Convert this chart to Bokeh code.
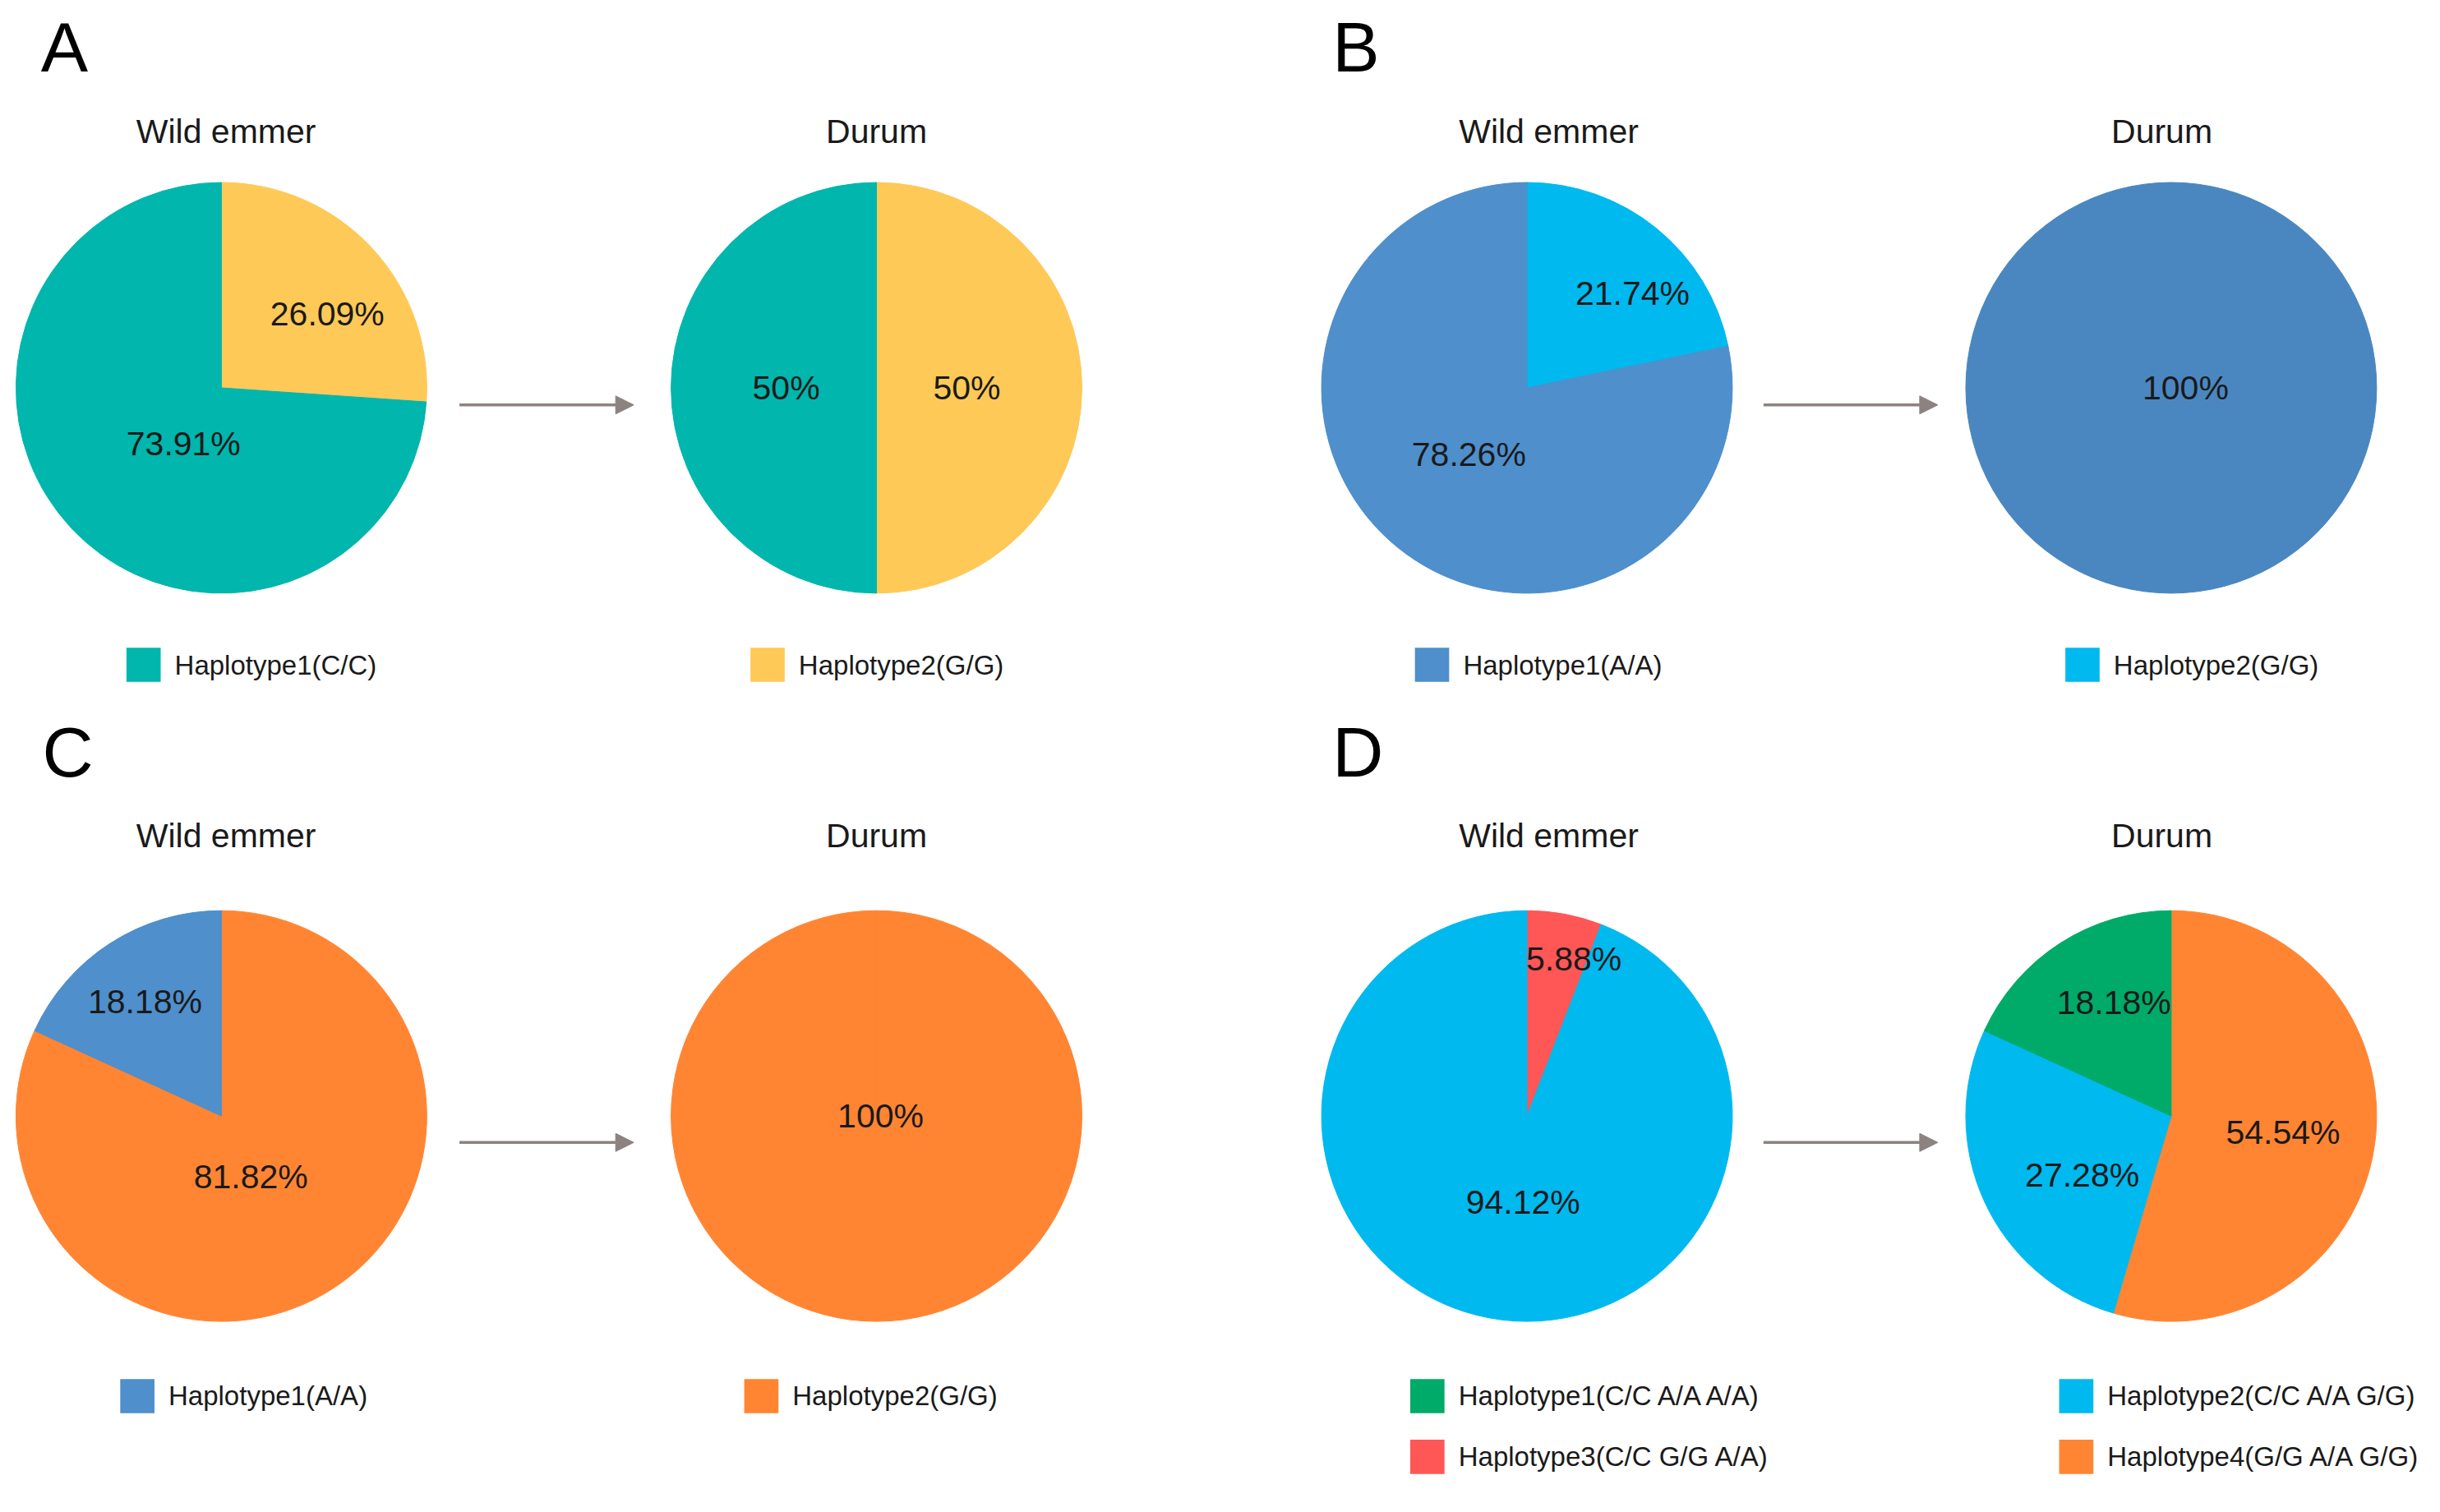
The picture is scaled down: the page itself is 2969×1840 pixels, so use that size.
import math
from bokeh.plotting import figure
from bokeh.models import Range1d, Arrow, NormalHead, ColumnDataSource
from bokeh.core.properties import value
from bokeh.embed import file_html
from bokeh.resources import INLINE

# ---------------- data ----------------
TEAL = "#00b6ad"
YELLOW = "#ffc957"
BLUE = "#4e8fcc"
BLUE_D = "#4a87c0"
CYAN = "#00b9ef"
ORANGE = "#ff8533"
GREEN = "#00aa68"
RED = "#ff5656"

# slices listed clockwise from 12 o'clock
A_wild_pct = [26.09, 73.91]
A_wild_col = [YELLOW, TEAL]
A_durum_pct = [50, 50]
A_durum_col = [YELLOW, TEAL]
A_legend = ["Haplotype1(C/C)", "Haplotype2(G/G)"]
A_legend_col = [TEAL, YELLOW]

B_wild_pct = [21.74, 78.26]
B_wild_col = [CYAN, BLUE]
B_durum_pct = [100]
B_durum_col = [BLUE_D]
B_legend = ["Haplotype1(A/A)", "Haplotype2(G/G)"]
B_legend_col = [BLUE, CYAN]

C_wild_pct = [81.82, 18.18]
C_wild_col = [ORANGE, BLUE]
C_durum_pct = [100]
C_durum_col = [ORANGE]
C_legend = ["Haplotype1(A/A)", "Haplotype2(G/G)"]
C_legend_col = [BLUE, ORANGE]

D_wild_pct = [5.88, 94.12]
D_wild_col = [RED, CYAN]
D_durum_pct = [54.54, 27.28, 18.18]
D_durum_col = [ORANGE, CYAN, GREEN]
D_legend = ["Haplotype1(C/C A/A A/A)", "Haplotype2(C/C A/A G/G)",
            "Haplotype3(C/C G/G A/A)", "Haplotype4(G/G A/A G/G)"]
D_legend_col = [GREEN, CYAN, RED, ORANGE]

titles = ["Wild emmer", "Durum"]
letters = ["A", "B", "C", "D"]

# ---------------- layout (units: reference px / S) ----------------
S = 2969 / 1568
W, H = 2953, 1824
FONT = value("Liberation Sans")
TXT = "#1a1a1a"
GRAY = "#8c8280"
R = 132

p = figure(width=W, height=H, output_backend="svg", toolbar_location=None,
           x_range=Range1d(0, W / S), y_range=Range1d(-H / S, 0),
           min_border=0)
p.axis.visible = False
p.grid.visible = False
p.outline_line_color = None
p.background_fill_color = "white"


def Y(yd):
    return -yd


def pie(cx, cy, pcts, cols, lab_style):
    total = sum(pcts)
    starts, ends, lx, ly, labs = [], [], [], [], []
    acc = 0.0
    for v, (rf, dang) in zip(pcts, lab_style):
        f0 = acc / total
        f1 = (acc + v) / total
        acc += v
        a_end = math.pi / 2 - f0 * 2 * math.pi
        a_start = math.pi / 2 - f1 * 2 * math.pi
        if f1 - f0 >= 0.9999:
            a_start = a_end - 2 * math.pi + 1e-5
        starts.append(a_start)
        ends.append(a_end)
        mid = (a_start + a_end) / 2 - math.radians(dang)
        d = R * rf
        lx.append(cx + d * math.cos(mid))
        ly.append(Y(cy) + d * math.sin(mid))
        labs.append(f"{v:g}%")
    src = ColumnDataSource(dict(x=[cx] * len(pcts), y=[Y(cy)] * len(pcts),
                                s=starts, e=ends, c=cols))
    p.wedge(x="x", y="y", radius=R, start_angle="s", end_angle="e", direction="anticlock",
            fill_color="c", line_color="c", line_width=1, source=src)
    p.text(x=lx, y=ly, text=labs, text_font=FONT, text_font_size="41px",
           text_align="center", text_baseline="middle", text_color=TXT)


def legend(entries, cols, pos):
    xs = [q[0] for q in pos]
    ys = [Y(q[1]) for q in pos]
    p.rect(x=[x + 11 for x in xs], y=ys, width=22, height=22, fill_color=cols, line_color=None)
    p.text(x=[x + 31 for x in xs], y=ys, text=entries, text_font=FONT, text_font_size="33px",
           text_align="left", text_baseline="middle", text_color=TXT)


# label placement: (radius fraction, clockwise angle tweak in degrees) per slice
panels = [
    dict(letter=letters[0], lp=(26, 30), ty=84, tx=(145, 563), cy=249, cx=(142, 563),
         ax=(295, 407), ay=260,
         pies=[(A_wild_pct, A_wild_col, [(0.63, 8), (0.33, -13)]),
               (A_durum_pct, A_durum_col, [(0.44, 0), (0.44, 0)])],
         leg=(A_legend, A_legend_col, [(81, 427), (482, 427)])),
    dict(letter=letters[1], lp=(856, 30), ty=84, tx=(995, 1389), cy=249, cx=(981, 1395),
         ax=(1133, 1245), ay=260,
         pies=[(B_wild_pct, B_wild_col, [(0.69, 9), (0.43, 2)]),
               (B_durum_pct, B_durum_col, [(0.07, -90)])],
         leg=(B_legend, B_legend_col, [(909, 427), (1327, 427)])),
    dict(letter=letters[2], lp=(27, 483), ty=537, tx=(145, 563), cy=717, cx=(142, 563),
         ax=(295, 407), ay=734,
         pies=[(C_wild_pct, C_wild_col, [(0.33, 7), (0.67, -1)]),
               (C_durum_pct, C_durum_col, [(0.02, -90)])],
         leg=(C_legend, C_legend_col, [(77, 897), (478, 897)])),
    dict(letter=letters[3], lp=(856, 483), ty=537, tx=(995, 1389), cy=717, cx=(981, 1395),
         ax=(1133, 1245), ay=734,
         pies=[(D_wild_pct, D_wild_col, [(0.8, 6), (0.42, -8)]),
               (D_durum_pct, D_durum_col, [(0.55, 0), (0.52, -9), (0.62, 6)])],
         leg=(D_legend, D_legend_col, [(906, 897), (1323, 897), (906, 936), (1323, 936)])),
]

for pn in panels:
    p.text(x=[pn["lp"][0]], y=[Y(pn["lp"][1])], text=[pn["letter"]], text_font=FONT,
           text_font_size="86px", text_align="left", text_baseline="middle", text_color="black")
    p.text(x=list(pn["tx"]), y=[Y(pn["ty"])] * 2, text=titles, text_font=FONT,
           text_font_size="41px", text_align="center", text_baseline="middle", text_color=TXT)
    for (pcts, cols, ls), cx in zip(pn["pies"], pn["cx"]):
        pie(cx, pn["cy"], pcts, cols, ls)
    p.add_layout(Arrow(end=NormalHead(size=22, fill_color=GRAY, line_color=GRAY),
                       x_start=pn["ax"][0], y_start=Y(pn["ay"]),
                       x_end=pn["ax"][1], y_end=Y(pn["ay"]),
                       line_color=GRAY, line_width=3.5))
    ent, cl, pos = pn["leg"]
    legend(ent, cl, pos)

open("out.html", "w").write(file_html(p, INLINE))
